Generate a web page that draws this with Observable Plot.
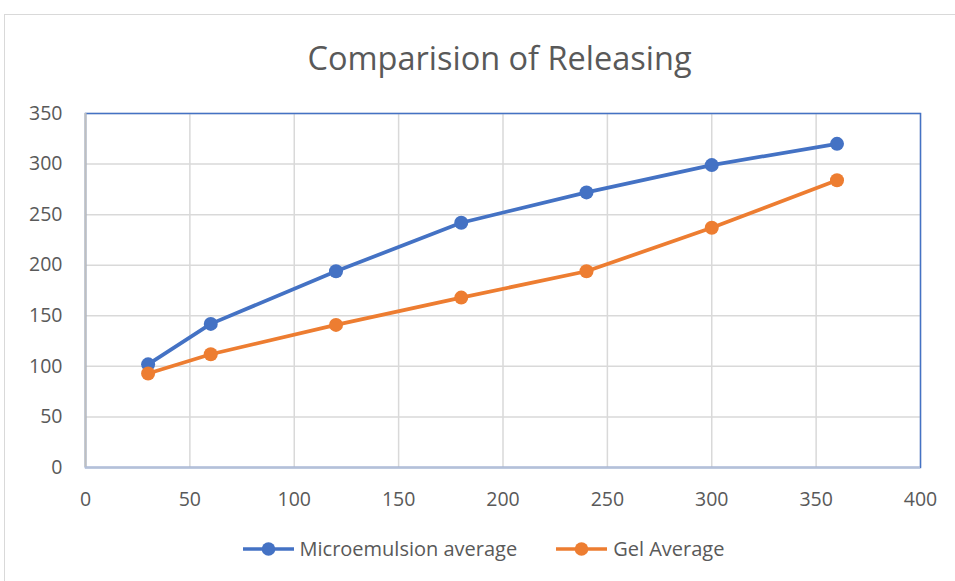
<!DOCTYPE html>
<html>
<head>
<meta charset="utf-8">
<script src="https://cdn.jsdelivr.net/npm/d3@7"></script>
<script src="https://cdn.jsdelivr.net/npm/@observablehq/plot@0.6"></script>
<style>
  html, body { margin: 0; padding: 0; background: #fff; }
  #chart { position: relative; width: 955px; height: 581px; overflow: hidden; font-family: "Open Sans", sans-serif; color: #595959; }
  #border { position: absolute; left: 4px; top: 14px; width: 1000px; height: 1000px; border: 1px solid #d9d9d9; box-sizing: border-box; }
  #title { position: absolute; left: 22px; width: 955px; top: 37px; text-align: center; font-size: 32.5px; line-height: 42px; color: #595959; }
  #plot { position: absolute; left: 0; top: 100px; }
  #legend { position: absolute; top: 535px; left: 0; width: 966px; display: flex; justify-content: center; gap: 38px; font-size: 20px; line-height: 28px; }
  .item { display: flex; align-items: center; gap: 5px; }
</style>
</head>
<body>
<div id="chart">
  <div id="border"></div>
  <div id="title"></div>
  <div id="plot"></div>
  <div id="legend"></div>
</div>
<script>
const titleText = "Comparision of Releasing";
const times = [30, 60, 120, 180, 240, 300, 360];
const microemulsion = [102, 142, 194, 242, 272, 299, 320];
const gel = [93, 112, 141, 168, 194, 237, 284];
const seriesNames = ["Microemulsion average", "Gel Average"];
const seriesColors = ["#4472C4", "#ED7D31"];
const xTicks = [0, 50, 100, 150, 200, 250, 300, 350, 400];
const yTicks = [0, 50, 100, 150, 200, 250, 300, 350];

document.getElementById("title").textContent = titleText;

const rows = [];
times.forEach((t, i) => {
  rows.push({t, v: microemulsion[i], s: seriesNames[0]});
  rows.push({t, v: gel[i], s: seriesNames[1]});
});

const chart = Plot.plot({
  width: 955,
  height: 420,
  marginTop: 13,
  marginLeft: 85,
  marginRight: 35,
  marginBottom: 53,
  style: { fontFamily: "Open Sans", fontSize: "19.5px", color: "#595959", background: "transparent" },
  x: { domain: [0, 400] },
  y: { domain: [0, 350] },
  color: { domain: seriesNames, range: seriesColors },
  marks: [
    Plot.gridX(xTicks, { stroke: "#d9d9d9", strokeOpacity: 1, strokeWidth: 1.5 }),
    Plot.gridY(yTicks, { stroke: "#d9d9d9", strokeOpacity: 1, strokeWidth: 1.5 }),
    Plot.frame({ stroke: "#4472C4", strokeWidth: 1.5 }),
    Plot.ruleX([0], { stroke: "#bfbfbf", strokeWidth: 2 }),
    Plot.ruleY([0], { stroke: "#b4c0d8", strokeWidth: 2 }),
    Plot.axisX(xTicks, { tickSize: 0, tickPadding: 25, label: null, fill: "#595959" }),
    Plot.axisY(yTicks, { tickSize: 0, tickPadding: 23, label: null, fill: "#595959" }),
    Plot.line(rows, { x: "t", y: "v", stroke: "s", z: "s", strokeWidth: 3.75 }),
    Plot.dot(rows, { x: "t", y: "v", fill: "s", r: 7 })
  ]
});
document.getElementById("plot").appendChild(chart);

const legend = document.getElementById("legend");
seriesNames.forEach((name, i) => {
  const item = document.createElement("div");
  item.className = "item";
  item.innerHTML = `<svg width="53" height="16"><line x1="1" y1="8" x2="52" y2="8" stroke="${seriesColors[i]}" stroke-width="3.5"/><circle cx="26.5" cy="8" r="6.8" fill="${seriesColors[i]}"/></svg><span></span>`;
  item.querySelector("span").textContent = name;
  legend.appendChild(item);
});
</script>
</body>
</html>
